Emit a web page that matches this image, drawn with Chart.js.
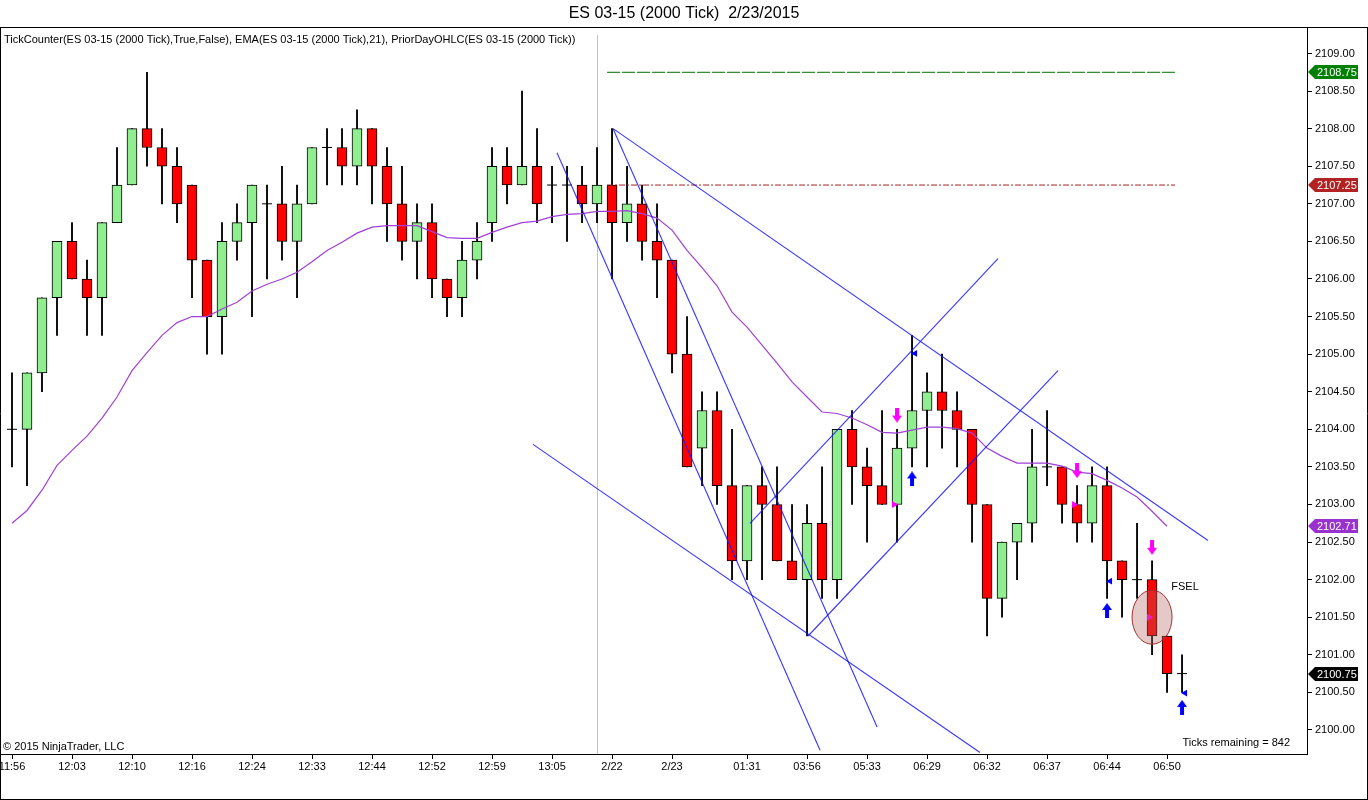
<!DOCTYPE html>
<html>
<head>
<meta charset="utf-8">
<script src="https://cdn.jsdelivr.net/npm/chart.js@4.4.1/dist/chart.umd.min.js"></script>
<style>
html, body { margin: 0; padding: 0; background: #fff; overflow: hidden; }
</style>
</head>
<body>
<canvas id="chart" width="1368" height="800"></canvas>
<script>
// ES 03-15 (2000 Tick) bars
const opens = [2104.0, 2104.0, 2104.75, 2105.75, 2106.5, 2106.0, 2105.75, 2106.75, 2107.25, 2108.0,
    2107.75, 2107.5, 2107.25, 2106.25, 2105.5, 2106.5, 2106.75, 2107.0, 2107.0, 2106.5,
    2107.0, 2107.75, 2107.75, 2107.5, 2108.0, 2107.5, 2107.0, 2106.5, 2106.75, 2106.0,
    2105.75, 2106.25, 2106.75, 2107.5, 2107.25, 2107.5, 2107.25, 2107.25, 2107.25, 2107.0,
    2107.25, 2106.75, 2107.0, 2106.5, 2106.25, 2105.0, 2103.75, 2104.25, 2103.25, 2102.25,
    2103.25, 2103.0, 2102.25, 2102.0, 2102.75, 2102.0, 2104.0, 2103.5, 2103.25, 2103.0,
    2103.75, 2104.25, 2104.5, 2104.25, 2104.0, 2103.0, 2101.75, 2102.5, 2102.75, 2103.5,
    2103.5, 2103.0, 2102.75, 2103.25, 2102.25, 2102.0, 2102.0, 2101.25, 2100.75];
const highs = [2104.75, 2104.75, 2105.75, 2106.5, 2106.75, 2106.25, 2106.75, 2107.75, 2108.0, 2108.75,
    2108.0, 2107.75, 2107.25, 2106.25, 2106.75, 2107.0, 2107.25, 2107.25, 2107.5, 2107.25,
    2107.75, 2108.0, 2108.0, 2108.25, 2108.0, 2107.75, 2107.5, 2107.0, 2107.0, 2106.0,
    2106.5, 2106.75, 2107.75, 2107.75, 2108.5, 2108.0, 2107.5, 2107.5, 2107.5, 2107.75,
    2108.0, 2107.5, 2107.25, 2107.0, 2106.25, 2105.5, 2104.5, 2104.5, 2104.0, 2103.25,
    2103.5, 2103.5, 2103.0, 2103.0, 2103.5, 2104.0, 2104.25, 2103.75, 2104.25, 2104.0,
    2105.25, 2104.75, 2105.0, 2104.5, 2104.0, 2103.0, 2102.5, 2102.75, 2104.0, 2104.25,
    2103.5, 2103.25, 2103.5, 2103.5, 2102.25, 2102.75, 2102.25, 2101.25, 2101.0];
const lows = [2103.5, 2103.25, 2104.5, 2105.25, 2106.0, 2105.25, 2105.25, 2106.75, 2107.25, 2107.5,
    2107.0, 2106.75, 2105.75, 2105.0, 2105.0, 2106.25, 2105.5, 2106.0, 2106.25, 2105.75,
    2107.0, 2107.25, 2107.25, 2107.25, 2107.0, 2106.5, 2106.25, 2106.0, 2105.75, 2105.5,
    2105.5, 2106.0, 2106.5, 2107.0, 2107.25, 2106.75, 2106.75, 2106.5, 2106.75, 2106.75,
    2106.0, 2106.5, 2106.25, 2105.75, 2104.75, 2103.5, 2103.25, 2103.0, 2102.0, 2102.0,
    2102.0, 2102.25, 2102.0, 2101.25, 2101.75, 2101.75, 2103.0, 2102.5, 2103.0, 2102.5,
    2103.5, 2103.5, 2103.75, 2103.5, 2102.5, 2101.25, 2101.5, 2102.0, 2102.5, 2103.25,
    2102.75, 2102.5, 2102.5, 2101.75, 2101.5, 2101.75, 2101.0, 2100.5, 2100.5];
const closes = [2104.0, 2104.75, 2105.75, 2106.5, 2106.0, 2105.75, 2106.75, 2107.25, 2108.0, 2107.75,
    2107.5, 2107.0, 2106.25, 2105.5, 2106.5, 2106.75, 2107.25, 2107.0, 2106.5, 2107.0,
    2107.75, 2107.75, 2107.5, 2108.0, 2107.5, 2107.0, 2106.5, 2106.75, 2106.0, 2105.75,
    2106.25, 2106.5, 2107.5, 2107.25, 2107.5, 2107.0, 2107.25, 2107.25, 2107.0, 2107.25,
    2106.75, 2107.0, 2106.5, 2106.25, 2105.0, 2103.5, 2104.25, 2103.25, 2102.25, 2103.25,
    2103.0, 2102.25, 2102.0, 2102.75, 2102.0, 2104.0, 2103.5, 2103.25, 2103.0, 2103.75,
    2104.25, 2104.5, 2104.25, 2104.0, 2103.0, 2101.75, 2102.5, 2102.75, 2103.5, 2103.5,
    2103.0, 2102.75, 2103.25, 2102.25, 2102.0, 2102.0, 2101.25, 2100.75, 2100.75];
// EMA(21) as plotted
const ema = [2102.75, 2102.92, 2103.19, 2103.52, 2103.72, 2103.91, 2104.15, 2104.43, 2104.78, 2105.02,
    2105.25, 2105.42, 2105.50, 2105.50, 2105.60, 2105.69, 2105.84, 2105.93, 2106.00, 2106.09,
    2106.23, 2106.38, 2106.49, 2106.61, 2106.69, 2106.71, 2106.71, 2106.71, 2106.63, 2106.55,
    2106.54, 2106.54, 2106.62, 2106.69, 2106.75, 2106.77, 2106.83, 2106.86, 2106.87, 2106.90,
    2106.90, 2106.91, 2106.87, 2106.81, 2106.65, 2106.38, 2106.15, 2105.91, 2105.56, 2105.36,
    2105.12, 2104.88, 2104.63, 2104.43, 2104.23, 2104.21, 2104.15, 2104.06, 2103.96, 2103.95,
    2103.99, 2104.03, 2104.03, 2104.01, 2103.95, 2103.75, 2103.64, 2103.55, 2103.55, 2103.55,
    2103.51, 2103.43, 2103.41, 2103.32, 2103.22, 2103.10, 2102.91, 2102.71, null];

const tickIndex = [0, 4, 8, 12, 16, 20, 24, 28, 32, 36, 40, 44, 49, 53, 57, 61, 65, 69, 73, 77];
const tickLabels = ['11:56', '12:03', '12:10', '12:16', '12:24', '12:33', '12:44', '12:52', '12:59', '13:05',
    '2/22', '2/23', '01:31', '03:56', '05:33', '06:29', '06:32', '06:37', '06:44', '06:50'];
const priceTicks = [2100.0, 2100.5, 2101.0, 2101.5, 2102.0, 2102.5, 2103.0, 2103.5, 2104.0, 2104.5,
    2105.0, 2105.5, 2106.0, 2106.5, 2107.0, 2107.5, 2108.0, 2108.5, 2109.0];

// prior day levels and drawn trend lines (bar index, price)
const priorHigh = 2108.75;
const priorClose = 2107.25;
const priorRange = [39.67, 77.53];
const trendLines = [
    [[36.33, 2107.68], [53.87, 2099.73]],
    [[40.07, 2108.0], [57.67, 2100.04]],
    [[40.07, 2108.0], [79.73, 2102.52]],
    [[34.73, 2103.80], [64.53, 2099.70]],
    [[49.2, 2102.75], [65.73, 2106.27]],
    [[53.07, 2101.25], [69.73, 2104.78]]
];
// signal markers
const sellArrows = [[59, 2104.19], [71, 2103.45], [76, 2102.43]];
const buyArrows = [[60, 2103.34], [73, 2101.59], [78, 2100.30]];
const leftMarks = [[60.2, 2105.01], [73.2, 2101.98], [78.2, 2100.49]];
const rightMarks = [[58.8, 2103.0], [70.8, 2103.0], [75.8, 2101.5]];
const circled = [76, 2101.5];
const fselAt = [78.2, 2101.9];
const sessionBreak = 39;

const priceTags = [2108.75, 2107.25, 2102.71, 2100.75];
const tagColors = ['#008000', '#B22222', '#9932CC', '#000000'];

const FONT = 'Liberation Sans';

function arrowImage(color, up) {
    const c = document.createElement('canvas');
    c.width = 10; c.height = 15;
    const g = c.getContext('2d');
    g.fillStyle = color;
    g.beginPath();
    if (up) {
        g.moveTo(5, 0); g.lineTo(10, 7); g.lineTo(7, 7); g.lineTo(7, 15);
        g.lineTo(3, 15); g.lineTo(3, 7); g.lineTo(0, 7);
    } else {
        g.moveTo(5, 15); g.lineTo(10, 8); g.lineTo(7, 8); g.lineTo(7, 0);
        g.lineTo(3, 0); g.lineTo(3, 8); g.lineTo(0, 8);
    }
    g.closePath();
    g.fill();
    return c;
}

const pts = arr => arr.map(p => ({x: p[0], y: p[1]}));

const bodyData = opens.map((o, i) => o === closes[i] ? null : {x: i, y: [o, closes[i]]}).filter(Boolean);
const dojiData = opens.map((o, i) => o === closes[i] ? {x: i, y: o} : null).filter(Boolean);
const wickData = opens.map((o, i) => ({x: i, y: [lows[i], highs[i]]}));
const emaData = ema.map((v, i) => v === null ? null : {x: i, y: v}).filter(Boolean);

const datasets = [
    {
        type: 'bar', data: wickData, backgroundColor: '#000', borderWidth: 0,
        barThickness: 1.2, grouped: false, order: 6
    },
    {
        type: 'bar', data: bodyData,
        backgroundColor: ctx => ctx.raw && ctx.raw.y[1] > ctx.raw.y[0] ? '#90EE90' : '#FF0000',
        borderColor: '#000', borderWidth: 1, borderSkipped: false,
        barThickness: 10, grouped: false, order: 5
    },
    {
        type: 'line', data: dojiData, showLine: false, pointStyle: 'line',
        pointRadius: 5, pointBorderColor: '#000', pointBorderWidth: 1, order: 4
    },
    {
        type: 'line', data: emaData, borderColor: '#A040D8', borderWidth: 1.2,
        pointRadius: 0, tension: 0, order: 3
    },
    {
        type: 'line', data: pts([[priorRange[0], priorHigh], [priorRange[1], priorHigh]]),
        borderColor: '#007000', borderWidth: 1, borderDash: [13, 2], pointRadius: 0, order: 3
    },
    {
        type: 'line', data: pts([[priorRange[0], priorClose], [priorRange[1], priorClose]]),
        borderColor: '#A52020', borderWidth: 1, borderDash: [6, 2, 2, 2], pointRadius: 0, order: 3
    }
];

trendLines.forEach(l => {
    datasets.push({
        type: 'line', data: pts(l), borderColor: 'rgba(20,20,255,0.85)', borderWidth: 1.1,
        pointRadius: 0, order: 2
    });
});

datasets.push(
    {type: 'line', data: pts(sellArrows), showLine: false, pointStyle: arrowImage('#FF00FF', false), order: 1},
    {type: 'line', data: pts(buyArrows), showLine: false, pointStyle: arrowImage('#0000FF', true), order: 1},
    {type: 'line', data: pts(leftMarks), showLine: false, pointStyle: 'triangle', pointRotation: 270,
        pointRadius: 4, pointBackgroundColor: '#0000FF', pointBorderWidth: 0, order: 1},
    {type: 'line', data: pts(rightMarks), showLine: false, pointStyle: 'triangle', pointRotation: 90,
        pointRadius: 4, pointBackgroundColor: '#FF00FF', pointBorderWidth: 0, order: 1}
);

const extras = {
    id: 'extras',
    beforeDatasetsDraw(chart) {
        const {ctx, chartArea, scales: {x}} = chart;
        const px = Math.round(x.getPixelForValue(sessionBreak)) + 0.5;
        ctx.save();
        ctx.strokeStyle = '#C0C0C0';
        ctx.lineWidth = 1;
        ctx.beginPath();
        ctx.moveTo(px, chartArea.top + 8);
        ctx.lineTo(px, chartArea.bottom);
        ctx.stroke();
        ctx.restore();
    },
    afterDatasetsDraw(chart) {
        const {ctx, scales: {x, y}} = chart;
        ctx.save();
        ctx.beginPath();
        ctx.ellipse(x.getPixelForValue(circled[0]), y.getPixelForValue(circled[1]), 20, 27, 0, 0, Math.PI * 2);
        ctx.fillStyle = 'rgba(180,100,100,0.35)';
        ctx.fill();
        ctx.strokeStyle = '#A03030';
        ctx.lineWidth = 1;
        ctx.stroke();
        ctx.fillStyle = '#000';
        ctx.font = '11px "' + FONT + '"';
        ctx.textAlign = 'center';
        ctx.textBaseline = 'middle';
        ctx.fillText('FSEL', x.getPixelForValue(fselAt[0]), y.getPixelForValue(fselAt[1]));
        ctx.restore();
    },
    afterDraw(chart) {
        const {ctx, chartArea, scales: {y}} = chart;
        ctx.save();
        // frame
        ctx.strokeStyle = '#000';
        ctx.lineWidth = 1;
        ctx.beginPath();
        ctx.moveTo(0, Math.round(chartArea.top) + 0.5);
        ctx.lineTo(1368, Math.round(chartArea.top) + 0.5);
        ctx.moveTo(0.5, chartArea.top);
        ctx.lineTo(0.5, 800);
        ctx.moveTo(0, 799.5);
        ctx.lineTo(1368, 799.5);
        ctx.moveTo(1367.5, chartArea.top);
        ctx.lineTo(1367.5, 800);
        ctx.stroke();

        ctx.fillStyle = '#000';
        ctx.font = '11px "' + FONT + '"';
        ctx.textBaseline = 'middle';
        ctx.textAlign = 'left';
        ctx.fillText('TickCounter(ES 03-15 (2000 Tick),True,False), EMA(ES 03-15 (2000 Tick),21), PriorDayOHLC(ES 03-15 (2000 Tick))', 4, chartArea.top + 13);
        ctx.fillText('\u00A9 2015 NinjaTrader, LLC', 3, chartArea.bottom - 7);
        ctx.textAlign = 'right';
        ctx.fillText('Ticks remaining = 842', chartArea.right - 17, chartArea.bottom - 11);

        // price tags on the axis
        const x0 = chartArea.right + 1;
        priceTags.forEach((v, i) => {
            const py = Math.round(y.getPixelForValue(v));
            ctx.beginPath();
            ctx.moveTo(x0, py);
            ctx.lineTo(x0 + 7, py - 7);
            ctx.lineTo(x0 + 50, py - 7);
            ctx.lineTo(x0 + 50, py + 7);
            ctx.lineTo(x0 + 7, py + 7);
            ctx.closePath();
            ctx.fillStyle = tagColors[i];
            ctx.fill();
            ctx.fillStyle = '#fff';
            ctx.textAlign = 'left';
            ctx.fillText(v.toFixed(2), x0 + 9, py + 0.5);
        });
        ctx.restore();
    }
};

new Chart(document.getElementById('chart').getContext('2d'), {
    type: 'bar',
    data: {datasets: datasets},
    options: {
        responsive: false,
        animation: false,
        devicePixelRatio: 1,
        layout: {padding: 0, autoPadding: false},
        plugins: {
            legend: {display: false},
            tooltip: {enabled: false},
            title: {
                display: true,
                text: 'ES 03-15 (2000 Tick)  2/23/2015',
                color: '#000',
                font: {family: FONT, size: 16, weight: 'normal'},
                padding: {top: 4, bottom: 4}
            }
        },
        scales: {
            x: {
                type: 'linear',
                min: -0.8,
                max: 86.33,
                offset: false,
                grid: {drawOnChartArea: false, offset: false, tickLength: 5, color: '#000'},
                border: {color: '#000'},
                ticks: {
                    autoSkip: false,
                    maxRotation: 0,
                    padding: 1,
                    color: '#000',
                    font: {family: FONT, size: 11},
                    callback: v => tickLabels[tickIndex.indexOf(v)]
                },
                afterBuildTicks: s => { s.ticks = tickIndex.map(v => ({value: v})); },
                afterFit: s => { s.height = 46; s.paddingLeft = 0; s.paddingRight = 0; }
            },
            y: {
                position: 'right',
                min: 2099.68,
                max: 2109.35,
                grid: {drawOnChartArea: false, tickLength: 5, color: '#000'},
                border: {color: '#000'},
                ticks: {
                    padding: 3,
                    color: '#000',
                    font: {family: FONT, size: 11},
                    callback: v => v.toFixed(2)
                },
                afterBuildTicks: s => { s.ticks = priceTicks.map(v => ({value: v})); },
                afterFit: s => { s.width = 61; s.paddingTop = 0; s.paddingBottom = 0; }
            }
        }
    },
    plugins: [extras]
});
</script>
</body>
</html>
